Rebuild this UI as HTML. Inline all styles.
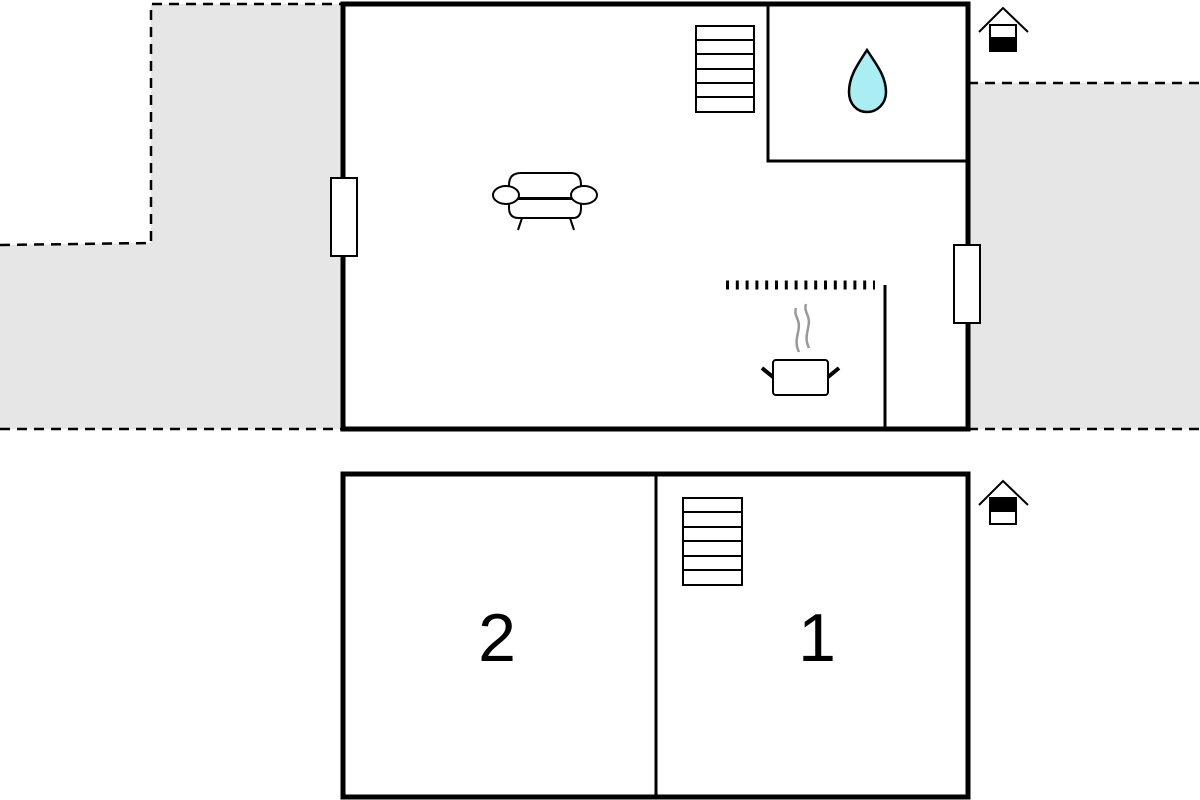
<!DOCTYPE html>
<html><head><meta charset="utf-8"><style>html,body{margin:0;padding:0;background:#fff}svg{display:block}</style></head>
<body>
<svg width="1200" height="800" viewBox="0 0 1200 800" xmlns="http://www.w3.org/2000/svg">
<polygon points="0,245 151,243 151,4 343,4 343,429 0,429" fill="#e6e6e6"/>
<rect x="968" y="83" width="232" height="346" fill="#e6e6e6"/>
<g stroke="#000" stroke-width="2.5" stroke-dasharray="10,7" fill="none">
<polyline points="0,245 151,243 151,4 343,4"/>
<line x1="0" y1="429" x2="343" y2="429"/>
<line x1="968" y1="83" x2="1200" y2="83"/>
<line x1="968" y1="429" x2="1200" y2="429"/>
</g>
<rect x="343" y="4" width="625" height="425" fill="#fff" stroke="#000" stroke-width="5"/>
<g stroke="#000" stroke-width="3" fill="none">
<polyline points="768,4 768,161 966,161"/>
<line x1="885" y1="285" x2="885" y2="429"/>
</g>
<line x1="726" y1="285" x2="875" y2="285" stroke="#000" stroke-width="9" stroke-dasharray="3,6.8"/>
<g stroke="#000" stroke-width="2" fill="#fff">
<rect x="696" y="26" width="58" height="86"/>
<line x1="696" y1="40" x2="754" y2="40"/><line x1="696" y1="54" x2="754" y2="54"/>
<line x1="696" y1="69" x2="754" y2="69"/><line x1="696" y1="83" x2="754" y2="83"/>
<line x1="696" y1="97" x2="754" y2="97"/>
</g>
<path d="M867,50 C858,64 849,76 849,92 C849,104 857,112 867,112 C877,112 886,104 886,92 C886,76 876,64 867,50 Z" fill="#aaeef4" stroke="#000" stroke-width="2.5"/>
<rect x="331" y="178" width="26" height="78" fill="#fff" stroke="#000" stroke-width="2"/>
<rect x="954" y="245" width="26" height="78" fill="#fff" stroke="#000" stroke-width="2"/>
<g stroke="#000" stroke-width="2" fill="#fff">
<path d="M509,198 L509,185 Q509,173 521,173 L571,173 Q581,173 581,185 L581,198 Z"/>
<path d="M509,198 L509,208 Q509,218 519,218 L573,218 Q581,218 581,208 L581,198"/>
<line x1="509" y1="199" x2="581" y2="199"/>
<ellipse cx="506" cy="195" rx="13" ry="9"/>
<ellipse cx="584" cy="195" rx="13" ry="9"/>
<line x1="522" y1="218" x2="518" y2="230"/><line x1="570" y1="218" x2="574" y2="230"/>
</g>
<g>
<path d="M799,352 C792,338 803,330 797,318 C795,313 795,311 796,308" stroke="#999" stroke-width="2.5" fill="none"/>
<path d="M809,348 C802,334 813,326 807,314 C805,309 805,307 806,304" stroke="#999" stroke-width="2.5" fill="none"/>
<rect x="773" y="360" width="55" height="35" rx="3" fill="#fff" stroke="#000" stroke-width="2"/>
<line x1="762" y1="368" x2="773" y2="377" stroke="#000" stroke-width="4"/>
<line x1="839" y1="368" x2="828" y2="377" stroke="#000" stroke-width="4"/>
</g>
<g stroke="#000" stroke-width="2" fill="none">
<polyline points="979,32 1003,8 1028,32"/>
<rect x="990" y="25" width="26" height="26" fill="#fff"/>
<rect x="990" y="38" width="26" height="13" fill="#000"/>
</g>
<rect x="343" y="474" width="625" height="323" fill="#fff" stroke="#000" stroke-width="5"/>
<line x1="656" y1="474" x2="656" y2="797" stroke="#000" stroke-width="3"/>
<g stroke="#000" stroke-width="2" fill="#fff">
<rect x="683" y="498" width="59" height="87"/>
<line x1="683" y1="512" x2="742" y2="512"/><line x1="683" y1="527" x2="742" y2="527"/>
<line x1="683" y1="541" x2="742" y2="541"/><line x1="683" y1="556" x2="742" y2="556"/>
<line x1="683" y1="570" x2="742" y2="570"/>
</g>
<g stroke="#000" stroke-width="2" fill="none">
<polyline points="979,505 1003,481 1028,505"/>
<rect x="990" y="498" width="26" height="26" fill="#fff"/>
<rect x="990" y="498" width="26" height="13" fill="#000"/>
</g>
<text x="497" y="661" font-family="Liberation Sans, sans-serif" font-size="68" text-anchor="middle" fill="#000">2</text>
<text x="817" y="661" font-family="Liberation Sans, sans-serif" font-size="68" text-anchor="middle" fill="#000">1</text>
</svg>
</body></html>
